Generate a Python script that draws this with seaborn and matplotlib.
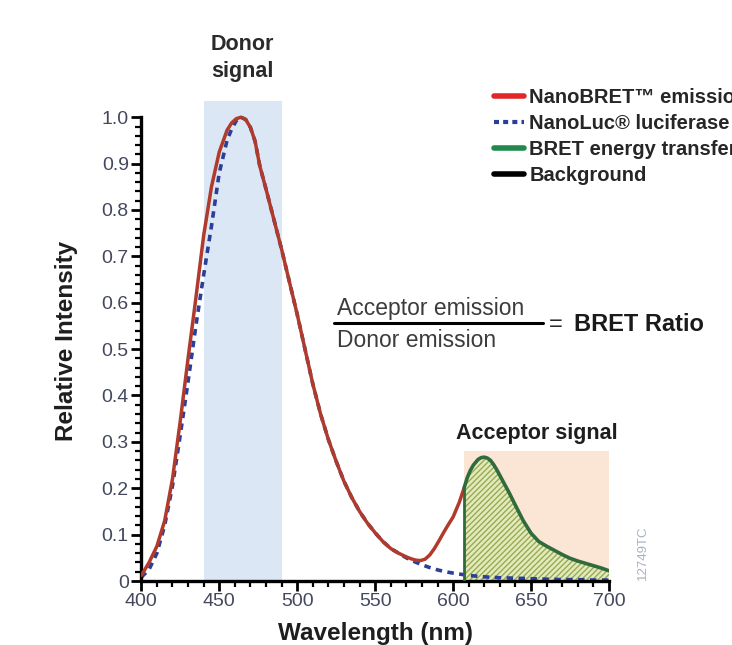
import numpy as np
import matplotlib
matplotlib.use("Agg")
import matplotlib.pyplot as plt
from matplotlib.lines import Line2D
import seaborn as sns

# NanoBRET emission (red), up to where the acceptor signal starts
red_wl = [400, 405, 410, 415, 420, 425, 430, 435, 440, 445, 450, 455, 458, 461,
          464, 467, 470, 473, 476, 480, 485, 490, 495, 500, 505, 510, 515, 520,
          525, 530, 535, 540, 545, 550, 555, 560, 565, 570, 573, 576, 579, 582,
          585, 588, 591, 594, 597, 600, 604, 607]
red_val = [0.012, 0.04, 0.075, 0.13, 0.22, 0.345, 0.48, 0.61, 0.745, 0.85, 0.925,
           0.972, 0.988, 0.997, 1.0, 0.995, 0.978, 0.948, 0.895, 0.845, 0.78,
           0.715, 0.645, 0.575, 0.5, 0.425, 0.36, 0.305, 0.258, 0.215, 0.18, 0.15,
           0.125, 0.104, 0.085, 0.07, 0.06, 0.052, 0.048, 0.045, 0.044, 0.047,
           0.056, 0.07, 0.087, 0.105, 0.122, 0.138, 0.17, 0.2]

# NanoLuc luciferase (blue dotted)
blue_wl = [400, 405, 410, 415, 420, 425, 430, 435, 440, 445, 450, 455, 458, 461,
           464, 467, 470, 473, 476, 480, 485, 490, 495, 500, 505, 510, 515, 520,
           525, 530, 535, 540, 545, 550, 555, 560, 565, 570, 575, 580, 585, 590,
           595, 600, 610, 620, 630, 640, 650, 660, 670, 680, 690, 700]
blue_val = [0.008, 0.025, 0.06, 0.12, 0.205, 0.315, 0.43, 0.55, 0.66, 0.765, 0.88,
            0.95, 0.975, 0.993, 1.0, 0.995, 0.978, 0.948, 0.895, 0.845, 0.78,
            0.715, 0.645, 0.575, 0.5, 0.425, 0.36, 0.305, 0.258, 0.215, 0.18, 0.15,
            0.125, 0.104, 0.085, 0.07, 0.06, 0.05, 0.042, 0.035, 0.029, 0.024,
            0.02, 0.017, 0.012, 0.009, 0.007, 0.006, 0.005, 0.004, 0.003, 0.003,
            0.002, 0.002]

# BRET energy transfer (green, acceptor part)
green_wl = [607, 609, 611, 613, 616, 618, 620, 622, 624, 626, 628, 632, 636, 640,
            645, 650, 655, 660, 665, 670, 675, 680, 685, 690, 695, 700]
green_val = [0.2, 0.222, 0.238, 0.25, 0.262, 0.266, 0.267, 0.265, 0.26, 0.251,
             0.24, 0.215, 0.19, 0.163, 0.13, 0.103, 0.085, 0.075, 0.066, 0.057,
             0.049, 0.043, 0.038, 0.033, 0.028, 0.022]

donor_band = (440, 490)
acceptor_band = (607, 700)
acceptor_top = 0.28

legend_labels = ["NanoBRET\u2122 emission", "NanoLuc\u00ae luciferase",
                 "BRET energy transfer", "Background"]

sns.set_style("ticks")
plt.rcParams["font.family"] = ["Liberation Sans", "DejaVu Sans"]
plt.rcParams["hatch.linewidth"] = 1.0
bold = ["Liberation Sans", "DejaVu Sans"]

W, H = 732, 645
fig = plt.figure(figsize=(W / 100, H / 100), dpi=100)
ax = fig.add_axes([141.3 / W, 1 - 581 / H, 467.7 / W, 480 / H])

# shaded signal windows
ax.axvspan(*donor_band, color="#dce7f5", lw=0, zorder=0)
ax.fill_between(acceptor_band, 0, acceptor_top, color="#fbe5d5", lw=0, zorder=0)

# hatched acceptor area
ax.fill_between(green_wl, 0, green_val, facecolor="#e6e9bb", edgecolor="#93ad55",
                hatch="//////", linewidth=0, zorder=1)

sns.lineplot(x=red_wl, y=red_val, ax=ax, color="#b03a2c", linewidth=2.5,
             estimator=None, zorder=3)
sns.lineplot(x=blue_wl, y=blue_val, ax=ax, color="#2a3f98", linewidth=2.6,
             linestyle=(0, (1.8, 1.5)), estimator=None, zorder=2)
sns.lineplot(x=green_wl, y=green_val, ax=ax, color="#2f6b3c", linewidth=2.6,
             estimator=None, zorder=4)
ax.vlines(green_wl[0], 0, green_val[0], color="#2f6b3c", linewidth=2.0, zorder=4)

ax.set_xlim(400, 700)
ax.set_ylim(0, 1.035)
sns.despine(ax=ax)
ax.spines["left"].set_bounds(0, 1)
for s in ["left", "bottom"]:
    ax.spines[s].set_linewidth(2.4)
    ax.spines[s].set_color("black")

ax.set_xticks(np.arange(400, 701, 50))
ax.set_xticks(np.arange(400, 701, 10), minor=True)
ax.set_yticks(np.arange(0, 1.01, 0.1))
ax.set_yticks(np.arange(0, 1.01, 0.02), minor=True)
ax.set_yticklabels(["0"] + ["%.1f" % v for v in np.arange(0.1, 1.01, 0.1)])
ax.tick_params(which="major", direction="out", length=7, width=2, color="black",
               labelsize=14, labelcolor="#44485e", pad=2)
ax.tick_params(which="minor", direction="out", length=4, width=1.6, color="black")

ax.set_xlabel("Wavelength (nm)", fontsize=17.5, fontweight="bold", family=bold,
              color="#1e1e1e")
ax.xaxis.set_label_coords(0.5, -0.085)
ax.set_ylabel("Relative Intensity", fontsize=17.5, fontweight="bold", family=bold,
              color="#1e1e1e")
ax.yaxis.set_label_coords(-0.135, 0.5)

# annotations
fig.text(242 / W, 1 - 58 / H, "Donor\nsignal", ha="center", va="center",
         fontsize=15.5, fontweight="bold", family=bold, color="#2a2a2a",
         linespacing=1.35)
fig.text(537 / W, 1 - 434 / H, "Acceptor signal", ha="center", va="center",
         fontsize=15.5, fontweight="bold", family=bold, color="#1e1e1e")
fig.text(337 / W, 1 - 308 / H, "Acceptor emission", ha="left", va="center",
         fontsize=16.5, color="#3c3c3c")
fig.text(337 / W, 1 - 340 / H, "Donor emission", ha="left", va="center",
         fontsize=16.5, color="#3c3c3c")
fig.add_artist(Line2D([334 / W, 543 / W], [1 - 323 / H, 1 - 323 / H],
                      color="black", linewidth=2.2))
fig.text(549 / W, 1 - 325 / H, "=", ha="left", va="center", fontsize=17,
         color="#2a2a2a")
fig.text(574 / W, 1 - 324 / H, "BRET Ratio", ha="left", va="center",
         fontsize=17, fontweight="bold", color="#1a1a1a")
fig.text(643 / W, 1 - 553 / H, "12749TC", ha="center", va="center", rotation=90,
         fontsize=9.5, color="#a6b2c6")

handles = [Line2D([], [], color="#e0282a", linewidth=4),
           Line2D([], [], color="#2a3f98", linewidth=3, linestyle=(0, (1.2, 1.0))),
           Line2D([], [], color="#1f8a4c", linewidth=4),
           Line2D([], [], color="black", linewidth=4)]
fig.legend(handles, legend_labels, loc="upper left",
           bbox_to_anchor=(494 / W, 1 - 88 / H), frameon=False,
           prop={"family": bold, "weight": "bold", "size": 14.5},
           handlelength=1.5, handletextpad=0.25, labelspacing=0.35,
           borderpad=0, borderaxespad=0)

fig.savefig("out.png", dpi=100)
